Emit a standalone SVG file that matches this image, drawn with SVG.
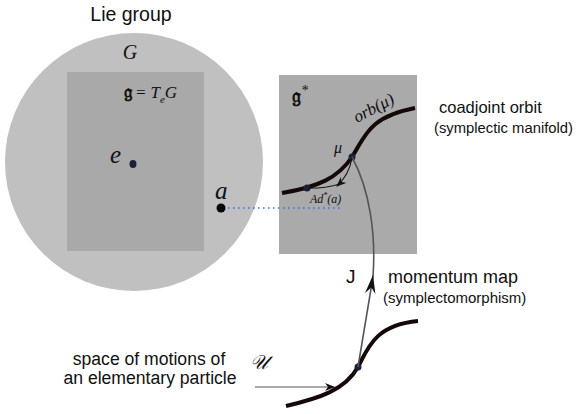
<svg xmlns="http://www.w3.org/2000/svg" width="580" height="414" viewBox="0 0 580 414">
<defs>
<style>
.sans{font-family:"Liberation Sans",Arial,sans-serif;fill:#111}
.math{font-family:"Liberation Serif","DejaVu Serif",serif;font-style:italic;fill:#111}
.frak{font-family:"DejaVu Serif","DejaVu Sans","Noto Sans",serif;font-weight:bold;fill:#111}
.dot{fill:#1b2235}
.thick{fill:none;stroke:#140808;stroke-width:4;stroke-linecap:butt}
</style>
<marker id="ah" viewBox="0 0 10 8" refX="9" refY="4" markerWidth="10" markerHeight="8" markerUnits="userSpaceOnUse" orient="auto">
<path d="M0,0 L10,4 L0,8 L3,4 Z" fill="#111"/>
</marker>
</defs>
<rect width="580" height="414" fill="#fff"/>

<g id="lie-group">
<circle cx="134" cy="162" r="129" fill="#c0c0c0"/>
<text class="sans" x="131" y="21" font-size="19.5" text-anchor="middle">Lie group</text>
<text class="math" x="130" y="59" font-size="20" text-anchor="middle">G</text>
</g>

<g id="lie-algebra">
<rect x="67" y="72" width="137" height="179" fill="#a9a9a9"/>
<text x="124" y="98" font-size="17"><tspan class="frak" font-size="19">𝔤</tspan><tspan class="math" font-style="normal" dx="3">=</tspan><tspan class="math" dx="4">T</tspan><tspan class="math" font-size="11" dy="5">e</tspan><tspan class="math" dy="-5">G</tspan></text>
<text class="math" x="110" y="163" font-size="25">e</text>
<ellipse class="dot" cx="133" cy="164" rx="3.5" ry="4"/>
</g>

<g id="element-a">
<text class="math" x="215" y="199" font-size="25">a</text>
<circle cx="221" cy="208" r="4.5" fill="#050505"/>
</g>

<g id="dual-algebra">
<rect x="279" y="75" width="138" height="179" fill="#aaaaaa"/>
<text x="292" y="103" font-size="20"><tspan class="frak">𝔤</tspan><tspan class="math" font-style="normal" font-size="14" dy="-8">*</tspan></text>
</g>

<g id="coadjoint-orbit">
<path class="thick" d="M282,193 C318,187 338,178 352,157 C365,137 368,117 415,108"/>
<text class="math" x="357" y="123" font-size="17" transform="rotate(-28 357 123)">orb(μ)</text>
<text class="math" x="334" y="153" font-size="16">μ</text>
<text class="math" x="310" y="203" font-size="12">Ad<tspan font-size="8" dy="-5">*</tspan><tspan dy="5">(a)</tspan></text>
<circle class="dot" cx="307" cy="188" r="3.5"/>
<circle class="dot" cx="352" cy="157" r="3.5"/>
<text class="sans" x="439" y="113" font-size="16.5">coadjoint orbit</text>
<text class="sans" x="434" y="133" font-size="14.8">(symplectic manifold)</text>
</g>

<g id="space-of-motions">
<path class="thick" d="M286,406 C320,398 345,390 358,367 C368,348 375,325 418,321"/>
<circle class="dot" cx="358" cy="367" r="3.5"/>
<text class="math" x="250" y="369" font-size="20">𝒰</text>
<text class="sans" x="149" y="365" font-size="17.6" text-anchor="middle">space of motions of</text>
<text class="sans" x="150" y="384" font-size="17.6" text-anchor="middle">an elementary particle</text>
</g>

<g id="momentum-map-label">
<text class="sans" x="346" y="283" font-size="19">J</text>
<text class="sans" x="388" y="283" font-size="18">momentum map</text>
<text class="sans" x="383" y="303" font-size="15">(symplectomorphism)</text>
</g>

<g id="connectors">
<line x1="228" y1="208" x2="341" y2="208" stroke="#3a6df0" stroke-width="1.6" stroke-dasharray="1.6 3.4"/>
<path d="M358,367 L373,277 C376,235 370,190 352,157" fill="none" stroke="#555" stroke-width="1.6"/>
<polygon points="373,275 375.4,294 371.4,287.5 365,293" fill="#111"/>
<path d="M352,158 Q349,175 337,186" fill="none" stroke="#111" stroke-width="1.1" marker-end="url(#ah)"/>
<path d="M308,188 Q326,189 342,183" fill="none" stroke="#111" stroke-width="1"/>
<line x1="255" y1="387" x2="334" y2="387" stroke="#555" stroke-width="1.2" marker-end="url(#ah)"/>
</g>
</svg>
